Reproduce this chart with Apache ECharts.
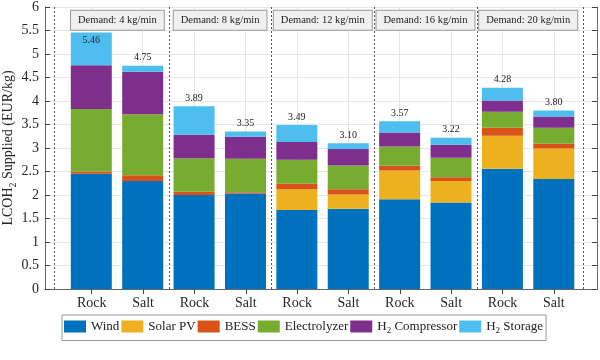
<!DOCTYPE html>
<html>
<head>
<meta charset="utf-8">
<script src="https://cdn.jsdelivr.net/npm/echarts@6/dist/echarts.min.js"></script>
<style>html,body{margin:0;padding:0;background:#fff}#c{width:600px;height:360px}</style>
</head>
<body>
<div id="c"></div>
<script>
var categories = ['Rock','Salt','Rock','Salt','Rock','Salt','Rock','Salt','Rock','Salt'];
var demandLabels = ['Demand: 4 kg/min','Demand: 8 kg/min','Demand: 12 kg/min','Demand: 16 kg/min','Demand: 20 kg/min'];
var seriesNames = ['Wind','Solar PV','BESS','Electrolyzer','H2 Compressor','H2 Storage'];
var wind         = [2.45, 2.30, 2.00, 2.03, 1.68, 1.71, 1.91, 1.84, 2.56, 2.34];
var solarPV      = [0.00, 0.00, 0.00, 0.00, 0.44, 0.30, 0.61, 0.46, 0.70, 0.65];
var bess         = [0.05, 0.12, 0.07, 0.03, 0.12, 0.11, 0.10, 0.08, 0.17, 0.10];
var electrolyzer = [1.33, 1.30, 0.71, 0.71, 0.51, 0.51, 0.41, 0.41, 0.34, 0.34];
var compressor   = [0.93, 0.90, 0.50, 0.47, 0.38, 0.35, 0.30, 0.28, 0.24, 0.24];
var storage      = [0.70, 0.13, 0.61, 0.11, 0.36, 0.12, 0.24, 0.15, 0.27, 0.13];

var colors = ['#0072BD','#EDB120','#D95319','#77AC30','#7E2F8E','#4DBEEE'];
var values = [wind, solarPV, bess, electrolyzer, compressor, storage];
var positions = categories.map(function(c, i){ return i + 1; });
var separators = [0.274, 2.5, 4.5, 6.5, 8.5, 10.574];
var FONT = '"Liberation Serif", "DejaVu Serif", serif';
var XMIN = 0.09, XMAX = 10.84;

function total(i){ var s = 0; values.forEach(function(a){ s += a[i]; }); return s; }

var series = values.map(function(arr, k){
  var s = {
    name: seriesNames[k],
    type: 'bar',
    stack: 'all',
    barWidth: 41,
    clip: false,
    xAxisIndex: 2, yAxisIndex: 2,
    z: 3,
    itemStyle: {color: colors[k]},
    data: arr.slice(),
    animation: false
  };
  if (k === values.length - 1) {
    s.data = arr.map(function(v, i){
      var d = {value: v};
      if (i === 0) d.label = {position: 'insideTop', distance: 3};
      return d;
    });
    s.label = {
      show: true, position: 'top', distance: 3,
      fontFamily: FONT, fontSize: 10, color: '#222',
      formatter: function(p){ return total(p.dataIndex).toFixed(2); }
    };
  }
  return s;
});

// helper series in the frame grid: group separators and demand boxes
series.push({
  type: 'scatter', xAxisIndex: 0, yAxisIndex: 0, data: [], silent: true, z: 4,
  markLine: {
    silent: true, symbol: ['none','none'], label: {show: false},
    lineStyle: {type: [2, 2], color: '#555', width: 1},
    data: separators.map(function(x){ return {xAxis: x}; })
  },
  markPoint: {
    silent: true, symbol: 'rect', symbolSize: 1,
    itemStyle: {color: 'rgba(0,0,0,0)'},
    label: {
      show: true, position: 'inside', fontFamily: FONT, fontSize: 10.5, color: '#222',
      backgroundColor: '#f0f0f0', borderColor: '#999', borderWidth: 1, padding: [4, 7]
    },
    data: demandLabels.map(function(t, g){
      return {coord: [2 * g + 1.5, 5.72], value: 0, label: {formatter: t}};
    })
  }
});

var chart = echarts.init(document.getElementById('c'), null, {renderer: 'canvas'});
var axisLine = {show: true, lineStyle: {color: '#666', width: 1}};
chart.setOption({
  animation: false,
  color: colors,
  grid: [
    {left: 45, right: 3, top: 7, bottom: 71, containLabel: false, outerBoundsMode: 'none'},
    {left: 91.3, right: 46.2, top: 7, bottom: 71, containLabel: false, outerBoundsMode: 'none'}
  ],
  legend: {
    left: 62, top: 315,
    padding: [5, 3, 5, 2], itemGap: 2, itemWidth: 22, itemHeight: 12,
    borderColor: '#999', borderWidth: 1, borderRadius: 0,
    icon: 'rect',
    textStyle: {
      fontFamily: FONT, fontSize: 13, color: '#222',
      rich: {
        n: {fontFamily: FONT, fontSize: 13, color: '#222'},
        s: {fontFamily: FONT, fontSize: 9, color: '#222', padding: [9, 0, 0, 0]}
      }
    },
    formatter: function(name){
      if (name.indexOf('H2') === 0) return '{n|H}{s|2}{n|' + name.slice(2) + '}';
      return name;
    },
    data: seriesNames
  },
  xAxis: [{
    type: 'value', min: XMIN, max: XMAX, position: 'bottom', gridIndex: 0,
    axisLine: axisLine,
    axisTick: {show: true, inside: true, length: 5, customValues: positions, lineStyle: {color: '#444'}},
    axisLabel: {
      customValues: positions, margin: 7,
      fontFamily: FONT, fontSize: 14, color: '#262626',
      formatter: function(v){ return categories[Math.round(v) - 1] || ''; }
    },
    splitLine: {show: false}
  }, {
    type: 'value', min: XMIN, max: XMAX, position: 'top', gridIndex: 0,
    axisLine: axisLine,
    axisTick: {show: true, inside: true, length: 5, customValues: positions, lineStyle: {color: '#444'}},
    axisLabel: {show: false},
    splitLine: {show: false}
  }, {
    type: 'category', data: categories, boundaryGap: false, gridIndex: 1,
    axisLine: {show: false}, axisTick: {show: false}, axisLabel: {show: false},
    splitLine: {show: true, lineStyle: {color: '#e6e6e6'}}
  }],
  yAxis: [{
    type: 'value', min: 0, max: 6, interval: 0.5, position: 'left', gridIndex: 0,
    axisLine: axisLine,
    axisTick: {show: true, inside: true, length: 5, lineStyle: {color: '#444'}},
    axisLabel: {margin: 6, fontFamily: FONT, fontSize: 14, color: '#262626',
      formatter: function(v){ return String(v); }},
    splitLine: {show: true, lineStyle: {color: '#e6e6e6'}},
    name: '{n|LCOH}{s|2}{n| Supplied (EUR/kg)}',
    nameLocation: 'middle', nameGap: 27, nameMoveOverlap: false,
    nameTextStyle: {
      rich: {
        n: {fontFamily: FONT, fontSize: 14, color: '#262626'},
        s: {fontFamily: FONT, fontSize: 10, color: '#262626', padding: [9, 0, 0, 0]}
      }
    }
  }, {
    type: 'value', min: 0, max: 6, interval: 0.5, position: 'right', gridIndex: 0,
    axisLine: axisLine,
    axisTick: {show: true, inside: true, length: 5, lineStyle: {color: '#444'}},
    axisLabel: {show: false},
    splitLine: {show: false}
  }, {
    type: 'value', min: 0, max: 6, interval: 0.5, gridIndex: 1, show: false,
    splitLine: {show: false}
  }],
  series: series
});
</script>
</body>
</html>
